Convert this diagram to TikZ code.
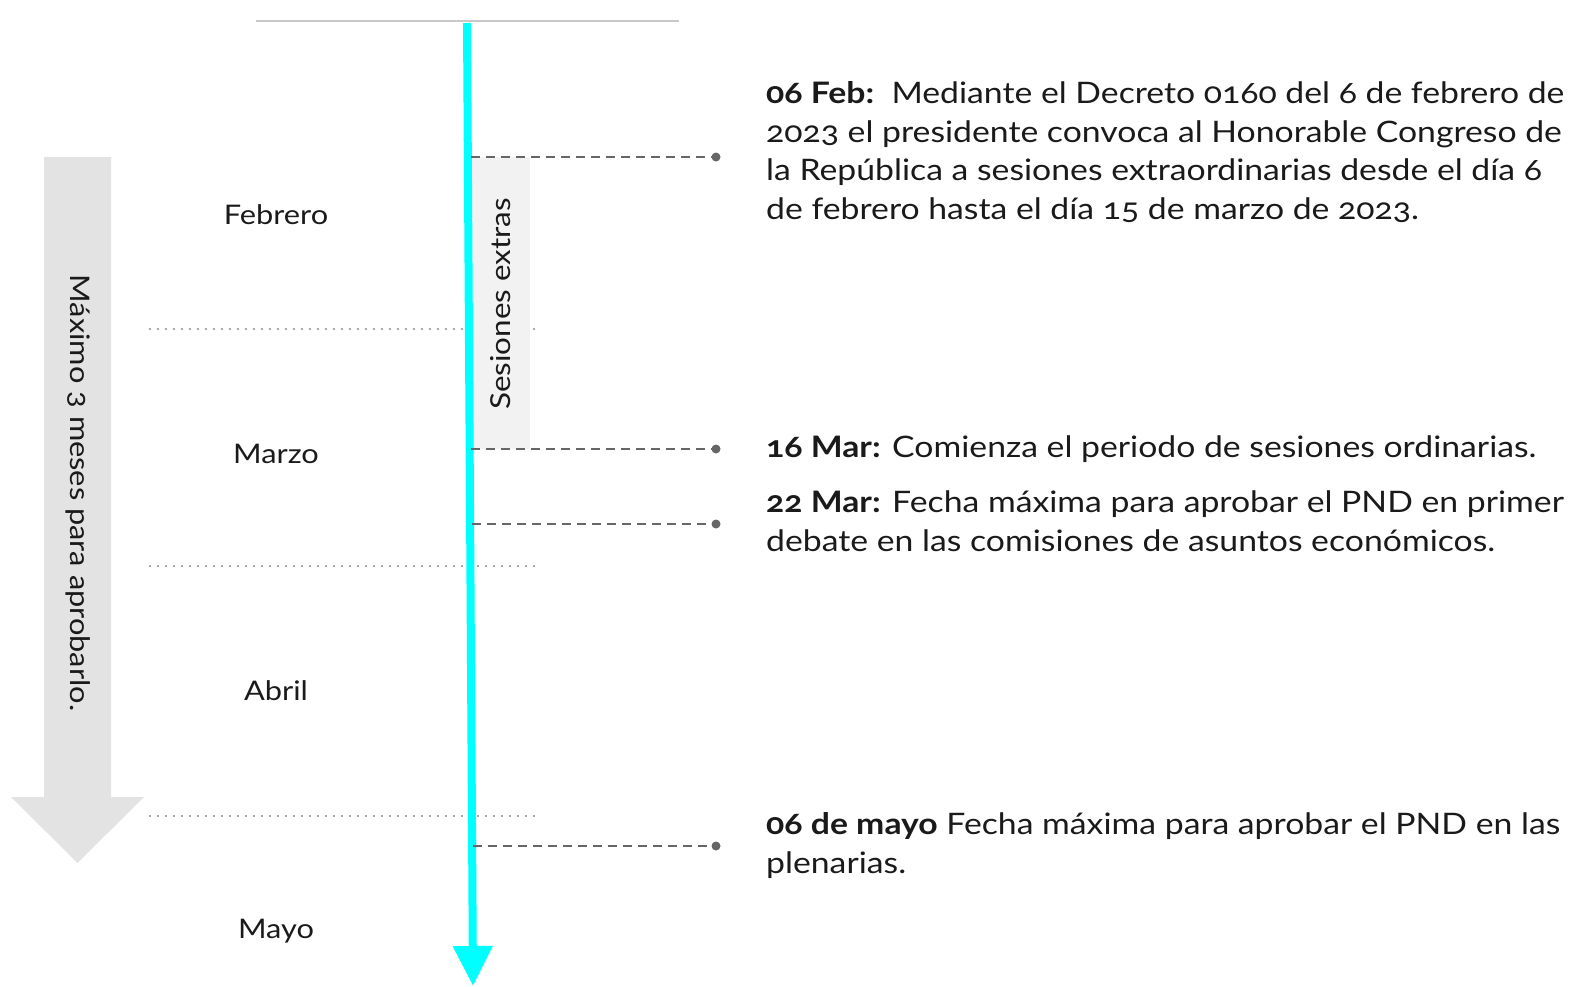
\documentclass[tikz,border=0pt]{standalone}
\usepackage{fontspec}
\setmainfont{Lato}[Numbers=OldStyle,FakeStretch=1.14]
\usetikzlibrary{arrows.meta}
\definecolor{txt}{HTML}{1A1A1A}
\definecolor{cyanax}{HTML}{00FFFF}
\definecolor{bigarrow}{HTML}{E3E3E3}
\definecolor{boxgray}{HTML}{F2F2F2}
\definecolor{leadgray}{HTML}{666666}
\definecolor{dotgray}{HTML}{AAAAAA}
\definecolor{topgray}{HTML}{C8C8C8}
\begin{document}
\begin{tikzpicture}[x=1pt,y=-1pt,
  month/.style={font=\fontsize{27}{32}\selectfont,text=txt,inner sep=0pt,anchor=base},
  event/.style={font=\fontsize{29.6}{38.5}\selectfont,text=txt,inner sep=0pt,anchor=base west,align=left},
  leader/.style={draw=leadgray,line width=2.5pt,dash pattern=on 9pt off 6pt},
  leaddot/.style={fill=leadgray},
  sep/.style={draw=dotgray,line width=2pt,dash pattern=on 1.6pt off 6.4pt},
  axis/.style={draw=cyanax,fill=cyanax,line width=8pt,-{Triangle[width=38pt,length=40pt]}}]
\useasboundingbox (0,0) rectangle (1577,986);
% top line
\coordinate (tl) at (256,21);
\coordinate (tr) at (679,21);
\draw[topgray,line width=2pt] (tl) -- (tr);
% big gray arrow
\fill[bigarrow] (44,157) -- (111,157) -- (111,797) -- (144,797) -- (77.5,863) -- (11,797) -- (44,797) -- cycle;
\node[rotate=-90,font=\fontsize{27}{32}\selectfont,text=txt,inner sep=0pt] (maxlabel) at (78,493) {Máximo 3 meses para aprobarlo.};
% month separators
\coordinate (s1a) at (149,329); \coordinate (s1b) at (536,329);
\coordinate (s2a) at (149,566); \coordinate (s2b) at (536,566);
\coordinate (s3a) at (149,816); \coordinate (s3b) at (536,816);
\draw[sep] (s1a) -- (s1b);
\draw[sep] (s2a) -- (s2b);
\draw[sep] (s3a) -- (s3b);
% months
\node[month] (feb) at (276,224) {Febrero};
\node[month] (mar) at (276,463) {Marzo};
\node[month] (abr) at (276,700) {Abril};
\node[month] (may) at (276,938) {Mayo};
% extra sessions box
\fill[boxgray] (469,157) rectangle (530,449);
\node[rotate=90,font=\fontsize{27.5}{30}\selectfont,text=txt,inner sep=0pt] (extras) at (501,304) {Sesiones extras};
% time axis
\coordinate (axtop) at (467,23);
\coordinate (axbot) at (473,986);
\draw[axis] (axtop) -- (axbot);
% leaders
\coordinate (l1a) at (471,157); \coordinate (l1b) at (716,157);
\coordinate (l2a) at (471,449); \coordinate (l2b) at (716,449);
\coordinate (l3a) at (472,524); \coordinate (l3b) at (716,524);
\coordinate (l4a) at (473,846); \coordinate (l4b) at (716,846);
\draw[leader] (l1a) -- (l1b); \fill[leaddot] (l1b) circle (4.5);
\draw[leader] (l2a) -- (l2b); \fill[leaddot] (l2b) circle (4.5);
\draw[leader] (l3a) -- (l3b); \fill[leaddot] (l3b) circle (4.5);
\draw[leader] (l4a) -- (l4b); \fill[leaddot] (l4b) circle (4.5);
% events (anchor = baseline of last line)
\node[event] (e1) at (766,219) {\textbf{06 Feb:}\ \ Mediante el Decreto 0160 del 6 de febrero de\\2023 el presidente convoca al Honorable Congreso de\\la República a sesiones extraordinarias desde el día 6\\de febrero hasta el día 15 de marzo de 2023.};
\node[event] (e2) at (766,457) {\textbf{16 Mar:} Comienza el periodo de sesiones ordinarias.};
\node[event] (e3) at (766,551) {\textbf{22 Mar:} Fecha máxima para aprobar el PND en primer\\debate en las comisiones de asuntos económicos.};
\node[event] (e4) at (766,873) {\textbf{06 de mayo} Fecha máxima para aprobar el PND en las\\plenarias.};
\end{tikzpicture}
\end{document}
